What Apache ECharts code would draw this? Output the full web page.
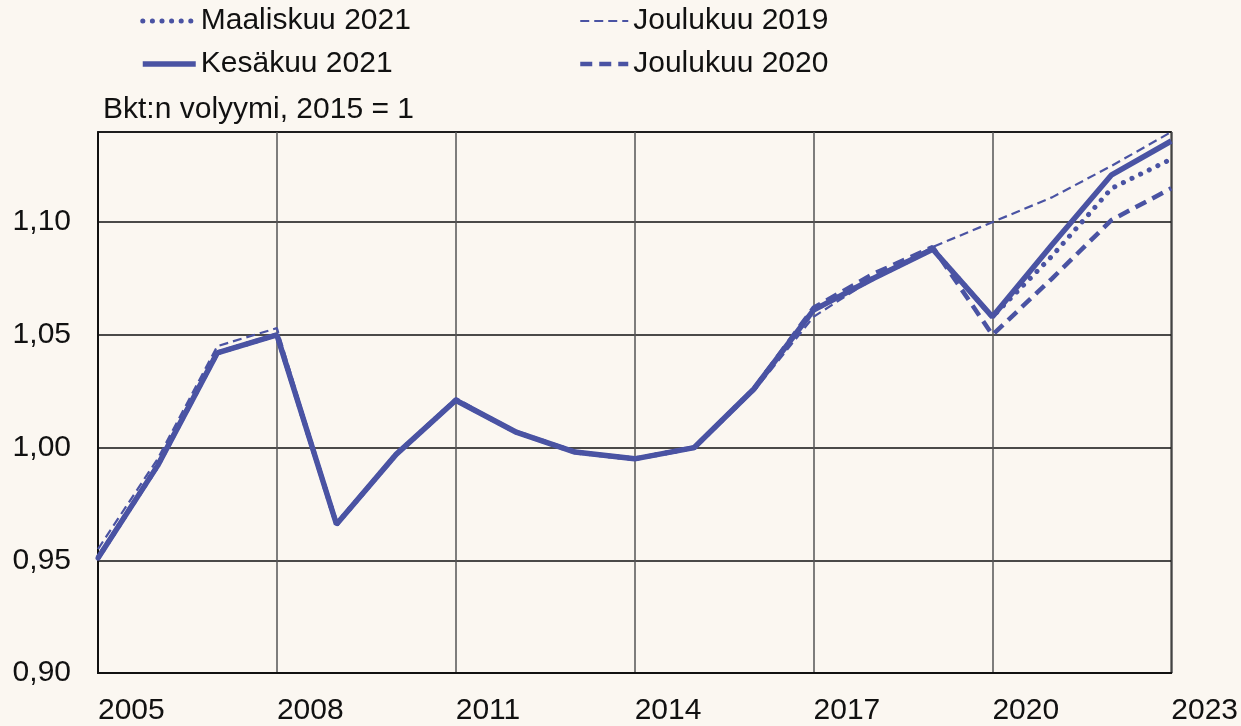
<!DOCTYPE html>
<html>
<head>
<meta charset="utf-8">
<script src="https://cdn.jsdelivr.net/npm/echarts@6/dist/echarts.min.js"></script>
<style>
  html, body { margin: 0; padding: 0; background: #fbf7f1; }
  #chart { width: 1241px; height: 726px; }
</style>
</head>
<body>
<div id="chart"></div>
<script>
// Bkt:n volyymi, 2015 = 1 -- ennusteet eri ajankohdilta
const years = ['2005', '2006', '2007', '2008', '2009', '2010', '2011', '2012', '2013', '2014',
  '2015', '2016', '2017', '2018', '2019', '2020', '2021', '2022', '2023'];

const maaliskuu2021 = [0.951, 0.992, 1.042, 1.050, 0.966, 0.997, 1.021, 1.007, 0.998, 0.995,
  1.000, 1.026, 1.061, 1.075, 1.088, 1.058, 1.085, 1.115, 1.128];
const joulukuu2019 = [0.955, 0.995, 1.045, 1.053, 0.966, 0.997, 1.022, 1.007, 0.998, 0.995,
  1.000, 1.025, 1.058, 1.075, 1.089, 1.100, 1.111, 1.125, 1.140];
const kesakuu2021 = [0.951, 0.992, 1.042, 1.050, 0.966, 0.997, 1.021, 1.007, 0.998, 0.995,
  1.000, 1.026, 1.061, 1.075, 1.088, 1.058, 1.090, 1.121, 1.136];
const joulukuu2020 = [0.951, 0.992, 1.042, 1.050, 0.966, 0.997, 1.021, 1.007, 0.998, 0.995,
  1.000, 1.026, 1.062, 1.077, 1.089, 1.050, 1.075, 1.101, 1.115];

const yTicks = { min: 0.9, max: 1.14, step: 0.05 };

const lineColor = '#4a53a3';
const textColor = '#111111';
const font = "'Liberation Sans', Arial, sans-serif";

// line styles, shared by series and legend icons
const styleDotted = { color: lineColor, width: 5, type: [0.1, 9.5], cap: 'round' };
const styleThinDash = { color: lineColor, width: 2.2, type: [9, 5] };
const styleSolid = { color: lineColor, width: 5.5 };
const styleThickDash = { color: lineColor, width: 4.5, type: [12, 7] };

const chart = echarts.init(document.getElementById('chart'));

const legendText = { fontSize: 30, color: textColor, fontFamily: font, lineHeight: 30 };

const option = {
  backgroundColor: '#fbf7f1',
  animation: false,
  title: {
    text: 'Bkt:n volyymi, 2015 = 1',
    left: 103,
    top: 95,
    padding: 0,
    textStyle: { fontSize: 30, fontWeight: 'normal', color: textColor, fontFamily: font }
  },
  legend: [
    {
      orient: 'vertical',
      left: 140,
      top: 6,
      padding: 0,
      itemGap: 13,
      itemWidth: 53,
      itemHeight: 14,
      itemStyle: { opacity: 0 },
      data: [
        { name: 'Maaliskuu 2021', lineStyle: styleDotted },
        { name: 'Kesäkuu 2021', lineStyle: styleSolid }
      ],
      textStyle: legendText
    },
    {
      orient: 'vertical',
      left: 578,
      top: 6,
      padding: 0,
      itemGap: 13,
      itemWidth: 48,
      itemHeight: 14,
      itemStyle: { opacity: 0 },
      data: [
        { name: 'Joulukuu 2019', lineStyle: styleThinDash },
        { name: 'Joulukuu 2020', lineStyle: styleThickDash }
      ],
      textStyle: legendText
    }
  ],
  grid: {
    left: 98,
    right: 69,
    top: 132,
    bottom: 51,
    show: true,
    borderColor: '#111',
    borderWidth: 1.5,
    backgroundColor: 'transparent'
  },
  xAxis: {
    type: 'category',
    data: years,
    boundaryGap: false,
    axisLine: { lineStyle: { color: '#111', width: 2 } },
    axisTick: { show: false },
    axisLabel: {
      interval: 2,
      align: 'left',
      margin: 23,
      fontSize: 30,
      color: textColor,
      fontFamily: font
    },
    splitLine: {
      show: true,
      interval: 2,
      lineStyle: { color: '#555', width: 1.5 }
    }
  },
  yAxis: {
    type: 'value',
    min: yTicks.min,
    max: yTicks.max,
    interval: yTicks.step,
    axisLine: { show: true, lineStyle: { color: '#111', width: 2 } },
    axisTick: { show: false },
    axisLabel: {
      showMaxLabel: false,
      margin: 27,
      fontSize: 30,
      color: textColor,
      fontFamily: font,
      formatter: v => v.toFixed(2).replace('.', ',')
    },
    splitLine: { lineStyle: { color: '#111', width: 1.5 } }
  },
  series: [
    {
      name: 'Maaliskuu 2021',
      type: 'line',
      data: maaliskuu2021,
      symbol: 'none',
      z: 2,
      lineStyle: styleDotted,
      itemStyle: { color: lineColor }
    },
    {
      name: 'Joulukuu 2019',
      type: 'line',
      data: joulukuu2019,
      symbol: 'none',
      z: 3,
      lineStyle: styleThinDash,
      itemStyle: { color: lineColor }
    },
    {
      name: 'Kesäkuu 2021',
      type: 'line',
      data: kesakuu2021,
      symbol: 'none',
      z: 4,
      lineStyle: styleSolid,
      itemStyle: { color: lineColor }
    },
    {
      name: 'Joulukuu 2020',
      type: 'line',
      data: joulukuu2020,
      symbol: 'none',
      z: 5,
      lineStyle: styleThickDash,
      itemStyle: { color: lineColor }
    }
  ]
};

chart.setOption(option);
</script>
</body>
</html>
